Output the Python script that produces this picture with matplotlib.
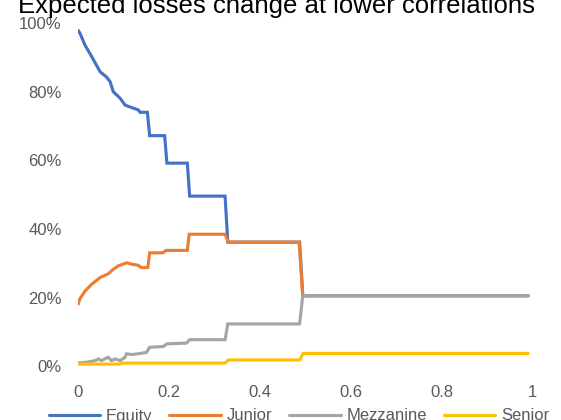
import matplotlib
matplotlib.use("Agg")
import matplotlib.pyplot as plt
from matplotlib.ticker import PercentFormatter

plt.rcParams['font.family'] = ['Liberation Sans', 'DejaVu Sans']

title = "Expected losses change at lower correlations"
series_names = ["Equity", "Junior", "Mezzanine", "Senior"]
colors = ["#4472C4", "#ED7D31", "#A5A5A5", "#FFC000"]

equity_x = [0, 0.004, 0.015, 0.03, 0.048, 0.062, 0.07, 0.077, 0.092, 0.103, 0.117,
            0.132, 0.136, 0.152, 0.157, 0.19, 0.195, 0.24, 0.245, 0.323, 0.329,
            0.487, 0.494, 0.99]
equity_y = [97.8, 96.9, 93.5, 90.1, 85.8, 84.3, 82.9, 80.0, 78.1, 76.1, 75.4,
            74.7, 74.0, 74.0, 67.2, 67.2, 59.2, 59.2, 49.6, 49.6, 36.2,
            36.2, 20.6, 20.6]

junior_x = [0, 0.003, 0.015, 0.03, 0.048, 0.066, 0.077, 0.088, 0.106, 0.117, 0.131,
            0.139, 0.153, 0.157, 0.186, 0.193, 0.240, 0.244, 0.323, 0.330, 0.486,
            0.494, 0.99]
junior_y = [18.2, 19.6, 22.0, 24.0, 25.9, 27.0, 28.3, 29.3, 30.2, 29.8, 29.5,
            28.8, 28.8, 33.1, 33.1, 33.8, 33.8, 38.5, 38.5, 36.2, 36.2,
            20.6, 20.6]

mezz_x = [0, 0.018, 0.037, 0.044, 0.051, 0.058, 0.066, 0.073, 0.081, 0.092, 0.103,
          0.106, 0.117, 0.132, 0.150, 0.157, 0.187, 0.195, 0.238, 0.245, 0.323,
          0.329, 0.487, 0.494, 0.99]
mezz_y = [1.0, 1.25, 1.7, 2.2, 1.7, 2.2, 2.7, 1.7, 2.2, 1.7, 2.7,
          3.7, 3.5, 3.7, 4.1, 5.6, 5.8, 6.6, 6.8, 7.8, 7.8,
          12.4, 12.4, 20.6, 20.6]

senior_x = [0, 0.09, 0.10, 0.323, 0.330, 0.487, 0.495, 0.99]
senior_y = [0.7, 0.7, 1.0, 1.0, 1.9, 1.9, 3.8, 3.8]

x_ticks = [0, 0.2, 0.4, 0.6, 0.8, 1]
x_ticklabels = ["0", "0.2", "0.4", "0.6", "0.8", "1"]
y_ticks = [0, 20, 40, 60, 80, 100]

W, H = 561, 420
y0_px, y100_px = 366.5, 23
fig = plt.figure(figsize=(W / 100, H / 100), dpi=100)
ax = fig.add_axes([78.3 / W, (H - y0_px) / H, 454.4 / W, (y0_px - y100_px) / H])

data = [(equity_x, equity_y), (junior_x, junior_y), (mezz_x, mezz_y), (senior_x, senior_y)]
for (xs, ys), name, c in zip(data, series_names, colors):
    ax.plot(xs, ys, color=c, lw=2.25, label=name, solid_joinstyle='miter', solid_capstyle='round')

ax.set_xlim(0, 1)
ax.set_ylim(0, 100)
ax.set_xticks(x_ticks)
ax.set_xticklabels(x_ticklabels)
ax.set_yticks(y_ticks)
ax.yaxis.set_major_formatter(PercentFormatter(decimals=0))
for s in ax.spines.values():
    s.set_visible(False)
ax.tick_params(axis='both', length=0, labelsize=12, colors="#595959")
ax.tick_params(axis='y', pad=12)
ax.tick_params(axis='x', pad=13)

fig.text(277 / W, (H - 13) / H, title, ha='center', va='baseline', fontsize=18.5, color='black')

fig.legend(loc='center', bbox_to_anchor=(299 / W, 4 / H), ncol=4, frameon=False,
           fontsize=12, handlelength=3.1, handletextpad=0.35, columnspacing=1.0,
           borderpad=0, labelcolor="#595959")

fig.savefig("out.png", dpi=100)
